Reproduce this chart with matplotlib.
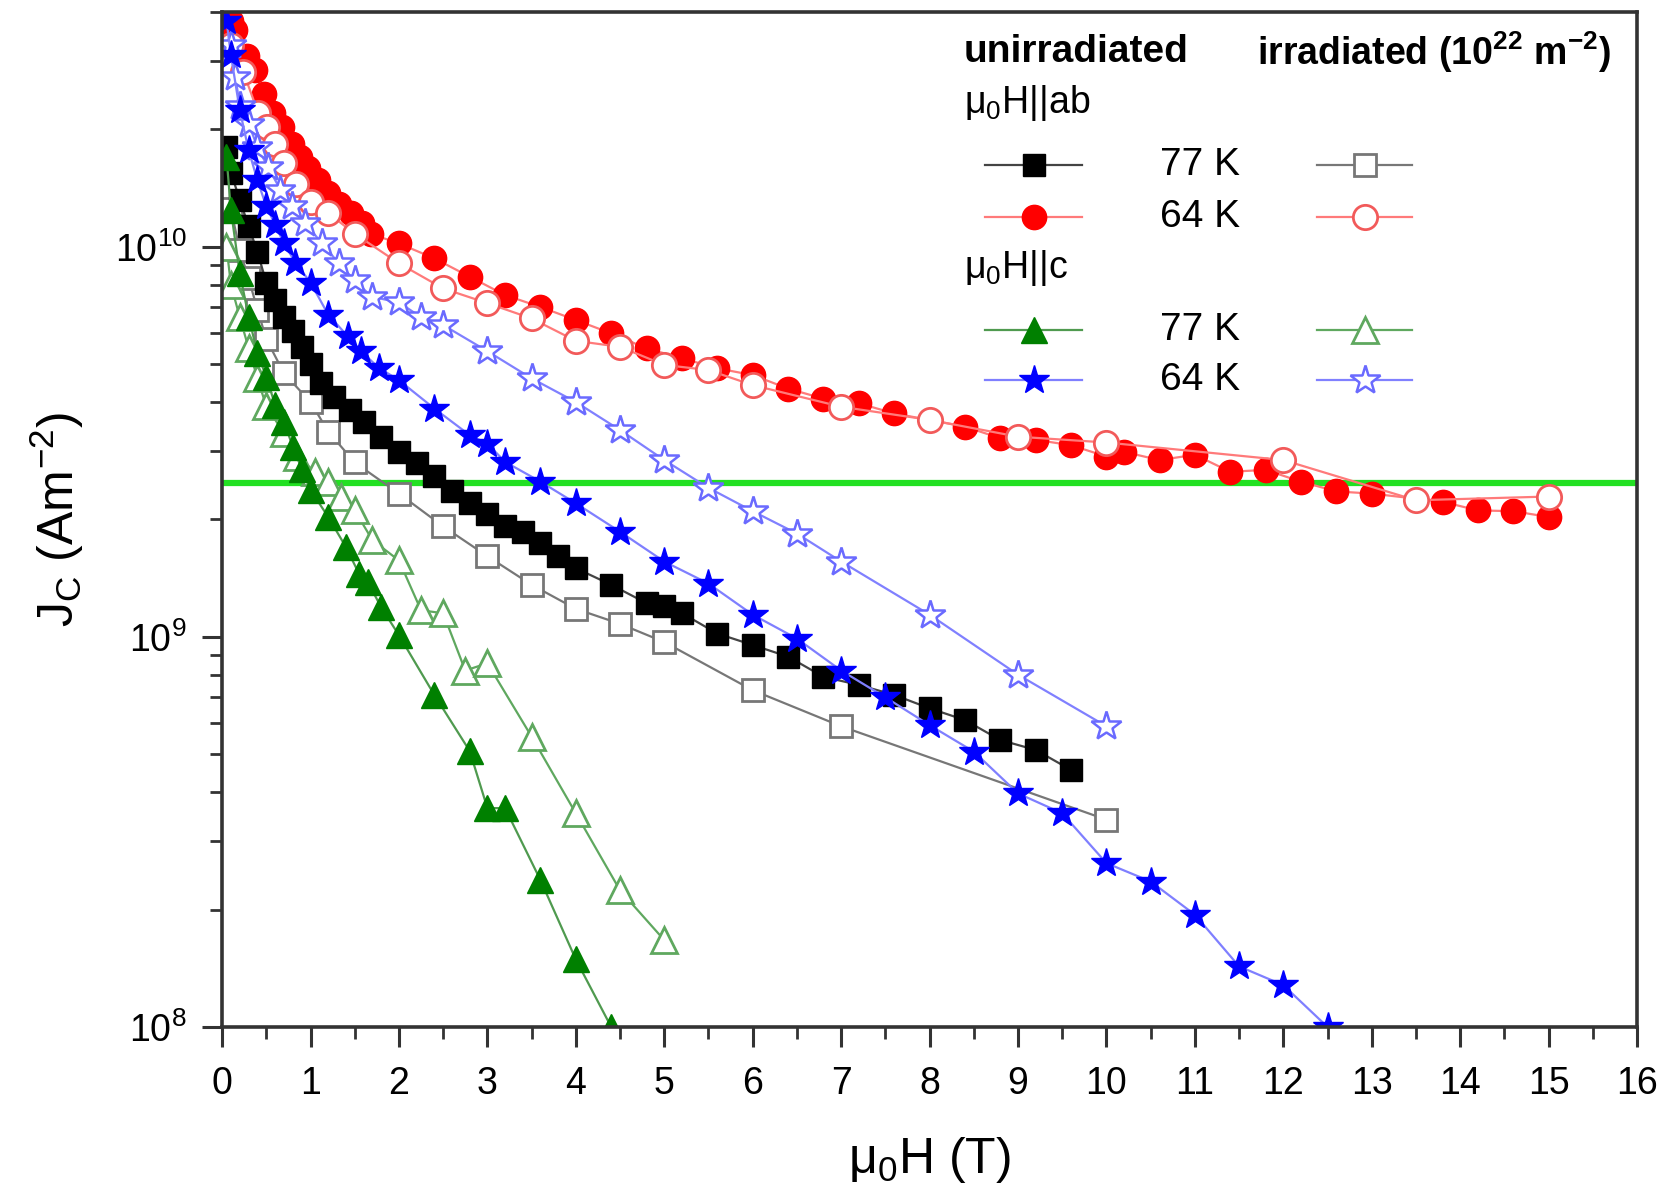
import matplotlib.pyplot as plt
import numpy as np
from matplotlib.lines import Line2D
from matplotlib.ticker import LogLocator, MultipleLocator, NullFormatter

plt.rcParams['font.family'] = 'Liberation Sans'
plt.rcParams['mathtext.fontset'] = 'custom'
plt.rcParams['mathtext.rm'] = 'Liberation Sans'
plt.rcParams['mathtext.it'] = 'Liberation Sans:italic'
plt.rcParams['mathtext.bf'] = 'Liberation Sans:bold'
plt.rcParams['mathtext.default'] = 'regular'

# field (T) and Jc (in units of 1e9 A/m^2)
# H || ab, 77 K
h_ab77_un = [0.05, 0.1, 0.2, 0.3, 0.4, 0.5, 0.6, 0.7, 0.8, 0.9, 1.0, 1.12, 1.27, 1.45, 1.6, 1.8,
             2.0, 2.2, 2.4, 2.6, 2.8, 3.0, 3.2, 3.4, 3.6, 3.8, 4.0, 4.4, 4.8, 5.0, 5.2, 5.6,
             6.0, 6.4, 6.8, 7.2, 7.6, 8.0, 8.4, 8.8, 9.2, 9.6]
jc_ab77_un = [18, 15.5, 13.2, 11.3, 9.7, 8.1, 7.3, 6.6, 6.1, 5.55, 5.0, 4.48, 4.13, 3.81, 3.56, 3.26,
              2.98, 2.79, 2.58, 2.36, 2.2, 2.07, 1.92, 1.86, 1.74, 1.61, 1.5, 1.36, 1.22, 1.2, 1.15, 1.02,
              0.953, 0.89, 0.79, 0.753, 0.71, 0.656, 0.612, 0.544, 0.513, 0.456]
h_ab77_irr = [0.1, 0.2, 0.3, 0.4, 0.5, 0.7, 1.0, 1.2, 1.5, 2.0, 2.5, 3.0, 3.5, 4.0, 4.5, 5.0, 6.0, 7.0, 10.0]
jc_ab77_irr = [12.5, 9.8, 8.3, 6.9, 5.8, 4.74, 4.0, 3.36, 2.8, 2.33, 1.92, 1.61, 1.36, 1.18, 1.08, 0.97,
               0.73, 0.59, 0.34]

# H || ab, 64 K
h_ab64_un = [0.1, 0.15, 0.28, 0.37, 0.47, 0.58, 0.68, 0.79, 0.88, 0.97, 1.08, 1.2, 1.32, 1.46, 1.58, 1.68,
             2.0, 2.4, 2.8, 3.2, 3.6, 4.0, 4.4, 4.8, 5.2, 5.6, 6.0, 6.4, 6.8, 7.2, 7.6, 8.4, 8.8, 9.2,
             9.6, 10.0, 10.2, 10.6, 11.0, 11.4, 11.8, 12.2, 12.6, 13.0, 13.8, 14.2, 14.6, 15.0]
jc_ab64_un = [38, 35.9, 30.9, 28.4, 24.7, 22.0, 20.3, 18.4, 17.0, 15.9, 14.8, 13.7, 12.9, 12.2, 11.5, 10.8,
              10.2, 9.34, 8.38, 7.52, 7.01, 6.49, 6.0, 5.49, 5.18, 4.88, 4.69, 4.33, 4.08, 3.97, 3.74, 3.46,
              3.23, 3.2, 3.1, 2.9, 2.98, 2.84, 2.93, 2.65, 2.68, 2.5, 2.36, 2.33, 2.22, 2.11, 2.1, 2.03]
h_ab64_irr = [0.1, 0.24, 0.41, 0.51, 0.6, 0.7, 0.84, 1.0, 1.2, 1.5, 2.0, 2.5, 3.0, 3.5, 4.0, 4.5, 5.0,
              5.5, 6.0, 7.0, 8.0, 9.0, 10.0, 12.0, 13.5, 15.0]
jc_ab64_irr = [33, 28.1, 22.0, 20.3, 18.4, 16.4, 14.5, 13.0, 12.2, 10.8, 9.07, 7.82, 7.17, 6.55, 5.74,
               5.54, 4.98, 4.83, 4.42, 3.89, 3.6, 3.26, 3.15, 2.84, 2.24, 2.29]

# H || c, 77 K
h_c77_un = [0.05, 0.1, 0.2, 0.3, 0.4, 0.5, 0.6, 0.7, 0.8, 0.9, 1.0, 1.2, 1.4, 1.55, 1.65, 1.8, 2.0,
            2.4, 2.8, 3.0, 3.2, 3.6, 4.0, 4.4]
jc_c77_un = [17, 12.4, 8.55, 6.62, 5.33, 4.64, 3.93, 3.56, 3.07, 2.7, 2.38, 2.03, 1.7, 1.45, 1.38, 1.19,
             1.01, 0.71, 0.51, 0.364, 0.364, 0.238, 0.149, 0.100]
h_c77_irr = [0.05, 0.1, 0.2, 0.3, 0.4, 0.5, 0.7, 0.85, 1.05, 1.2, 1.35, 1.5, 1.7, 2.0, 2.25, 2.5, 2.75,
             3.0, 3.5, 4.0, 4.5, 5.0]
jc_c77_irr = [10.0, 8.0, 6.6, 5.5, 4.6, 3.9, 3.33, 2.9, 2.65, 2.5, 2.29, 2.11, 1.77, 1.57, 1.17, 1.15,
              0.82, 0.856, 0.555, 0.353, 0.224, 0.167]

# H || c, 64 K
h_c64_un = [0.05, 0.1, 0.2, 0.3, 0.4, 0.5, 0.6, 0.7, 0.83, 1.0, 1.2, 1.42, 1.57, 1.77, 2.0, 2.4, 2.8,
            3.0, 3.2, 3.6, 4.0, 4.5, 5.0, 5.5, 6.0, 6.5, 7.0, 7.5, 8.0, 8.5, 9.0, 9.5, 10.0, 10.5,
            11.0, 11.5, 12.0, 12.5]
jc_c64_un = [38, 31, 22.4, 17.7, 14.8, 12.7, 11.4, 10.2, 9.1, 8.1, 6.7, 5.9, 5.4, 4.9, 4.55, 3.85, 3.29,
             3.13, 2.81, 2.5, 2.2, 1.86, 1.56, 1.37, 1.14, 0.99, 0.82, 0.70, 0.594, 0.508, 0.397, 0.353,
             0.263, 0.236, 0.194, 0.143, 0.128, 0.100]
h_c64_irr = [0.1, 0.15, 0.2, 0.3, 0.4, 0.52, 0.66, 0.79, 0.94, 1.13, 1.32, 1.5, 1.69, 2.0, 2.25, 2.5,
             3.0, 3.5, 4.0, 4.5, 5.0, 5.5, 6.0, 6.5, 7.0, 8.0, 9.0, 10.0]
jc_c64_irr = [33, 27.3, 23, 20.7, 18, 16.0, 14.0, 12.7, 11.5, 10.2, 9.07, 8.2, 7.45, 7.2, 6.6, 6.3, 5.4,
              4.6, 4.0, 3.39, 2.84, 2.41, 2.1, 1.84, 1.56, 1.14, 0.80, 0.59]

jc_ref = 2.48  # horizontal green reference line

# styles (line colour, marker, marker size, face, edge)
sty_ab77_un = dict(color='#444444', marker='s', ms=16.5, mfc='black', mec='black', lw=1.6)
sty_ab77_irr = dict(color='#777777', marker='s', ms=16.5, mfc='white', mec='#777777', mew=2, lw=1.6)
sty_ab64_un = dict(color='#ff7a7a', marker='o', ms=17.5, mfc='#ff0000', mec='#ff0000', lw=1.6)
sty_ab64_irr = dict(color='#ff7a7a', marker='o', ms=17.5, mfc='white', mec='#f25a5a', mew=2, lw=1.6)
sty_c77_un = dict(color='#4f9a4f', marker='^', ms=18.5, mfc='#008000', mec='#008000', lw=1.6)
sty_c77_irr = dict(color='#5fa85f', marker='^', ms=18.5, mfc='white', mec='#5fa85f', mew=2, lw=1.6)
sty_c64_un = dict(color='#7f7fff', marker='*', ms=22, mfc='#0000ff', mec='#0000ff', lw=1.6)
sty_c64_irr = dict(color='#8080ff', marker='*', ms=22, mfc='white', mec='#6a6aff', mew=1.8, lw=1.6)

fig = plt.figure(figsize=(16.61, 11.95), dpi=100)
ax = fig.add_axes([0.1337, 0.1406, 0.8519, 0.8494])

ax.axhline(jc_ref * 1e9, color='#22e022', lw=4.5, zorder=1)

ax.plot(h_ab77_irr, np.array(jc_ab77_irr) * 1e9, **sty_ab77_irr)
ax.plot(h_ab77_un, np.array(jc_ab77_un) * 1e9, **sty_ab77_un)
ax.plot(h_c77_irr, np.array(jc_c77_irr) * 1e9, **sty_c77_irr)
ax.plot(h_c77_un, np.array(jc_c77_un) * 1e9, **sty_c77_un)
ax.plot(h_ab64_un, np.array(jc_ab64_un) * 1e9, **sty_ab64_un)
ax.plot(h_ab64_irr, np.array(jc_ab64_irr) * 1e9, **sty_ab64_irr)
ax.plot(h_c64_irr, np.array(jc_c64_irr) * 1e9, **sty_c64_irr)
ax.plot(h_c64_un, np.array(jc_c64_un) * 1e9, **sty_c64_un)

ax.set_yscale('log')
ax.set_xlim(0, 16)
ax.set_ylim(1e8, 4e10)
ax.xaxis.set_major_locator(MultipleLocator(1))
ax.xaxis.set_minor_locator(MultipleLocator(0.5))
ax.yaxis.set_major_locator(LogLocator(base=10))
ax.yaxis.set_minor_locator(LogLocator(base=10, subs=np.arange(2, 10)))
ax.yaxis.set_minor_formatter(NullFormatter())

for s in ax.spines.values():
    s.set_linewidth(2.6)
    s.set_color('#333333')
ax.tick_params(which='major', direction='out', length=14.4, width=2.2, color='#333333')
ax.tick_params(which='minor', direction='out', length=8.6, width=2.0, color='#333333')
ax.tick_params(axis='x', which='major', labelsize=27, pad=14)
ax.tick_params(axis='y', which='major', labelsize=27, pad=11)

ax.set_xlabel(r'$μ_0$H (T)', fontsize=36)
ax.set_ylabel(r'J$_C$ (Am$^{-2}$)', fontsize=36)
ax.xaxis.label.set_va('center')
ax.yaxis.label.set_va('center')
ax.xaxis.set_label_coords(0.5, -0.131)
ax.yaxis.set_label_coords(-0.117, 0.5)

# legend block drawn in axes coordinates
def key(x0, x1, y, sty):
    ax.add_line(Line2D([x0, (x0 + x1) / 2, x1], [y, y, y], transform=ax.transAxes,
                       markevery=[1], clip_on=False, **sty))

ax.text(0.524, 0.9606, 'unirradiated', transform=ax.transAxes, fontsize=28,
        fontweight='bold', va='center')
ax.text(0.7314, 0.9606, r'irradiated (10$^{\mathbf{22}}$ m$^{\mathbf{-2}}$)', transform=ax.transAxes,
        fontsize=27, fontweight='bold', va='center')
ax.text(0.524, 0.910, r'$μ_0$H||ab', transform=ax.transAxes, fontsize=27, va='center')
ax.text(0.524, 0.748, r'$μ_0$H||c', transform=ax.transAxes, fontsize=27, va='center')

rows = [(0.849, '77 K', sty_ab77_un, sty_ab77_irr),
        (0.798, '64 K', sty_ab64_un, sty_ab64_irr),
        (0.687, '77 K', sty_c77_un, sty_c77_irr),
        (0.637, '64 K', sty_c64_un, sty_c64_irr)]
for y, lab, s_un, s_irr in rows:
    key(0.539, 0.608, y, s_un)
    ax.text(0.663, y, lab, transform=ax.transAxes, fontsize=28, va='center')
    key(0.774, 0.841, y, s_irr)

plt.savefig('out.png', dpi=100)
